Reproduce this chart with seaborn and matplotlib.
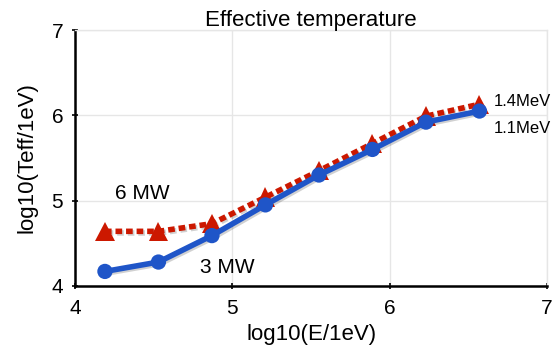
import matplotlib
matplotlib.use("Agg")
import matplotlib.pyplot as plt
import seaborn as sns
import pandas as pd
import matplotlib.patheffects as pe

log_e = [4.19, 4.53, 4.87, 5.21, 5.55, 5.89, 6.23, 6.57]
teff_6mw = [4.64, 4.64, 4.73, 5.04, 5.35, 5.67, 5.99, 6.13]
teff_3mw = [4.17, 4.28, 4.59, 4.95, 5.30, 5.60, 5.92, 6.05]
x_ticks = [4, 5, 6, 7]
y_ticks = [4, 5, 6, 7]

sns.set_theme(style="whitegrid")
plt.rcParams['font.family'] = ['Liberation Sans', 'DejaVu Sans']
plt.rcParams['text.color'] = 'black'
plt.rcParams['axes.labelcolor'] = 'black'
plt.rcParams['xtick.color'] = 'black'
plt.rcParams['ytick.color'] = 'black'

fig = plt.figure(figsize=(5.6, 3.53), dpi=100)
ax = fig.add_axes([0.134, 0.19, 0.843, 0.725])

df6 = pd.DataFrame({"x": log_e, "y": teff_6mw})
df3 = pd.DataFrame({"x": log_e, "y": teff_3mw})

shadow = [pe.SimpleLineShadow(offset=(1.2, -1.2), alpha=0.2), pe.Normal()]

sns.lineplot(data=df6, x="x", y="y", ax=ax, color="#cc1800", linewidth=4,
             marker="^", markersize=14, markeredgewidth=0,
             path_effects=shadow, zorder=3)
ax.lines[-1].set_dashes([1.2, 0.7])
sns.lineplot(data=df3, x="x", y="y", ax=ax, color="#1f55c8", linewidth=4,
             marker="o", markersize=11, markeredgewidth=0,
             path_effects=shadow, zorder=4)

ax.set_xlim(4, 7)
ax.set_ylim(4, 7)
ax.set_xticks(x_ticks)
ax.set_yticks(y_ticks)
ax.tick_params(labelsize=15, direction="inout", length=5, width=1.2, color="black",
               labelcolor="black", bottom=True, left=True)
ax.tick_params(axis="x", pad=7)
ax.tick_params(axis="y", pad=6)
ax.grid(True, color="#e6e6e6", linewidth=1)
for s in ["top", "right"]:
    ax.spines[s].set_color("#e6e6e6")
    ax.spines[s].set_linewidth(1)
for s in ["left", "bottom"]:
    ax.spines[s].set_color("black")
    ax.spines[s].set_linewidth(1.8)

ax.set_xlabel("log10(E/1eV)", fontsize=16, labelpad=4, color="black")
ax.set_ylabel("log10(Teff/1eV)", fontsize=16, labelpad=10, color="black")
ax.set_title("Effective temperature", fontsize=16, pad=3, color="black")

ax.text(4.43, 5.08, "6 MW", fontsize=15, ha="center", va="center", color="black")
ax.text(4.97, 4.22, "3 MW", fontsize=15, ha="center", va="center", color="black")
ax.text(6.66, 6.16, "1.4MeV", fontsize=12, ha="left", va="center", color="black")
ax.text(6.66, 5.85, "1.1MeV", fontsize=12, ha="left", va="center", color="black")

fig.savefig("out.png", dpi=100)
